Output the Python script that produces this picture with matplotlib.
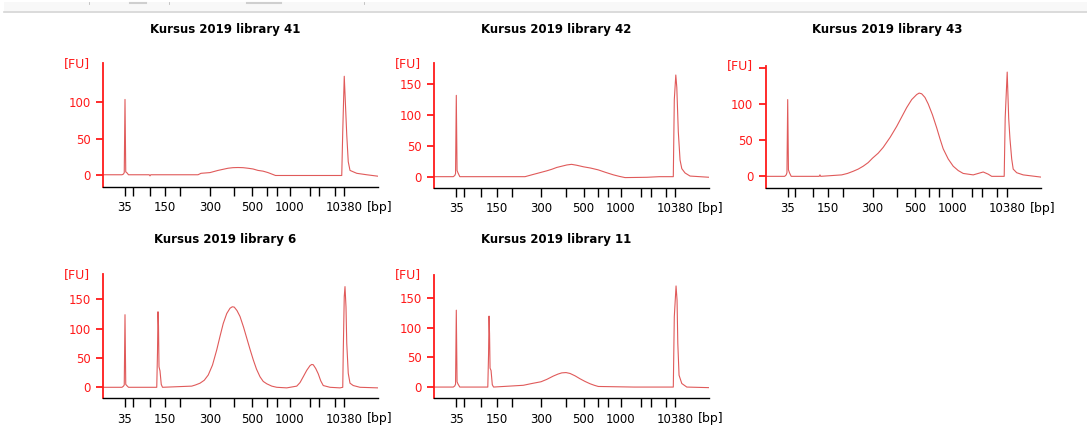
import matplotlib
matplotlib.use("Agg")
import matplotlib.pyplot as plt
from matplotlib.lines import Line2D
from matplotlib.patches import Rectangle

# ---------------- data ----------------
# ladder sizes (bp) and their migration times (s)
ladder_bp = [35, 50, 100, 150, 200, 300, 400, 500, 600, 700, 1000, 2000, 3000, 7000, 10380]
ladder_time = [28.8, 31.9, 38.8, 44.9, 50.9, 62.8, 72.5, 79.7, 85.5, 89.4, 94.6, 102.7, 106.5, 112.7, 116.4]
labelled_bp = [35, 150, 300, 500, 1000, 10380]

titles = ["Kursus 2019 library 41", "Kursus 2019 library 42", "Kursus 2019 library 43",
          "Kursus 2019 library 6", "Kursus 2019 library 11"]

lib41_time = [20, 27.6, 28.2, 28.5, 28.8, 29.1, 29.5, 30.2, 38.5, 38.8, 39.1, 58, 59.2, 62.8, 66, 68, 70,
              72, 74, 76, 78, 80, 82, 84, 86, 89, 92, 115.5, 115.9, 116.5, 117.5, 118.1, 118.8,
              121.5, 125.5, 130]
lib41_fu = [0, 0, 1, 3, 104, 4, 3, 0, 0, -1.5, 0, 0, 2, 3, 6, 7.5, 9,
            9.8, 10, 9.8, 9, 8, 6, 5, 3, -1, -1, -1, 60, 136, 55, 18, 6,
            2, 0, -2]

lib42_time = [20, 27.6, 28.2, 28.5, 28.8, 29.1, 29.5, 30.2, 56.3, 59, 62.7, 65, 67, 69, 71, 73, 74.9, 77,
              79.7, 82.5, 85.6, 88.5, 91.6, 94, 96.3, 105, 110, 115.6, 116.0, 116.6, 117.0, 117.6,
              118.3, 119.0, 120.3, 122.3, 130]
lib42_fu = [0, 0, 2, 5, 132, 10, 6, 0, 0, 3, 7, 9.5, 12, 15, 17, 19, 20, 18.5,
            16, 14, 11, 7, 3, 0.5, -1.5, -1, 0, 0, 125, 165, 145, 73,
            27, 13, 6, 1, -1]

lib43_time = [20, 27.6, 28.2, 28.5, 28.8, 29.1, 29.5, 30.2, 41.4, 41.7, 42.0, 50.4, 52.7, 55, 57, 59, 61,
              62.7, 65, 67, 69.8, 72.4, 74.4, 76.4, 78.4, 80.4, 81.4, 82.4, 83.7, 85, 86.7, 88.4, 89.7,
              91, 93, 95, 97, 99, 103, 105, 107, 109, 110.4, 115.4, 115.8, 116.6, 117.2,
              117.7, 118.4, 119.0, 120.4, 123, 130]
lib43_fu = [0, 0, 2, 5, 106, 9, 5, 0, 0, 2, 0, 2, 4, 7, 10, 14, 19,
            25, 32, 40, 54, 69, 82, 95, 106, 113, 115, 114, 109, 100, 85, 67, 52,
            38, 24, 14, 8, 4, 2, 4, 6, 3, 0, 0, 81, 144, 80,
            52, 24, 10, 5, 2, -1]

lib6_time = [20, 27.6, 28.2, 28.5, 28.8, 29.1, 29.5, 30.2, 41.5, 41.8, 42.0, 42.2, 42.4, 42.8, 43.3, 43.8,
             55.5, 57, 58.8, 60.5, 62.1, 63.8, 65.5, 66.8, 68.1, 69.5, 70.8, 71.7, 72.5, 73.6, 74.8,
             76.2, 77.5, 78.8, 80.1, 81.4, 82.8, 84.1, 85.5, 87.5, 89.5, 93.5,
             97.5, 98.8, 100.1, 101.5, 102.8, 103.5, 104.1, 105.1, 106.1, 107.1, 108.1, 110.8, 114.8,
             115.9, 116.1, 116.5, 116.8, 117.2, 117.5, 118.1, 118.8, 120.1, 122.8, 130]
lib6_fu = [0, 0, 2, 4, 124, 5, 3, 0, 0, 60, 129, 105, 35, 28, 5, 0,
           2, 4, 7, 12, 21, 38, 64, 87, 109, 126, 135, 137.5, 137, 131, 121,
           103, 84, 65, 47, 31, 18, 10, 6, 2, 0, -1,
           2, 8, 18, 29, 37, 39, 38.5, 32, 23, 11, 3, 0, -1,
           0, 60, 155, 172, 137, 75, 24, 7, 3, 0, -1]

lib11_time = [20, 27.6, 28.2, 28.5, 28.8, 29.1, 29.5, 30.2, 41.4, 41.7, 41.9, 42.1, 42.3, 42.7, 43.2, 43.7,
              55.6, 59, 62.7, 65, 67.6, 69.5, 71, 72.7, 74.3, 76.3, 78.3, 80.3, 82.3, 84, 85.6, 100,
              115.2, 115.6, 116.0, 116.7, 117.1, 117.4, 117.9, 119.0, 121.0, 130]
lib11_fu = [0, 0, 2, 5, 130, 9, 5, 0, 0, 55, 120, 90, 32, 28, 4, 0,
            3, 6, 9, 13, 18.6, 22, 24, 24.5, 23, 19, 14, 9.5, 5.6, 3, 1, 0,
            0, 0, 119, 171, 147, 74, 20, 6, 0, -1]

traces_time = [lib41_time, lib42_time, lib43_time, lib6_time, lib11_time]
traces_fu = [lib41_fu, lib42_fu, lib43_fu, lib6_fu, lib11_fu]

y_limits = [(-16.9, 153.9), (-17.9, 184), (-15.7, 152.4), (-18.8, 193), (-19, 189.5)]
y_ticks = [[0, 50, 100], [0, 50, 100, 150], [0, 50, 100, 150], [0, 50, 100, 150], [0, 50, 100, 150]]
y_ticklabels = [["0", "50", "100"], ["0", "50", "100", "150"], ["0", "50", "100", ""],
                ["0", "50", "100", "150"], ["0", "50", "100", "150"]]

# ---------------- layout (pixels) ----------------
W, H = 1087, 428
# (left x, top y, bottom y) of each plot area
boxes = [(103, 63.3, 187), (434.3, 63.3, 187.7), (765.7, 66, 187.7),
         (103, 274.3, 398.3), (434.3, 275, 398.3)]
axis_w = 275
title_x = [224.7, 556.3, 887.5, 225, 555.8]
title_y = [29, 29, 29, 240, 240]

RED = "#ff1a1a"
TRACE = "#e05a5a"

fig = plt.figure(figsize=(W / 100, H / 100), dpi=100)
fig.patch.set_facecolor("white")

# window header strip
fig.patches.append(Rectangle((4 / W, 1 - 11 / H), 1 - 4 / W, 9 / H, transform=fig.transFigure,
                             facecolor="#f8f8f8", edgecolor="none"))
fig.add_artist(Line2D([4 / W, 1], [1 - 11.5 / H, 1 - 11.5 / H], transform=fig.transFigure,
                      color="#d4d4d4", lw=1.2))
for (xa, xb) in [(130, 146), (247, 281)]:
    fig.add_artist(Line2D([xa / W, xb / W], [1 - 3 / H, 1 - 3 / H], transform=fig.transFigure,
                          color="#cfcfcf", lw=1.5))
for xm in [89, 169, 364]:
    fig.add_artist(Line2D([xm / W, xm / W], [1 - 2 / H, 1 - 4 / H], transform=fig.transFigure,
                          color="#bbbbbb", lw=0.6))

for i in range(5):
    x0, ytop, ybot = boxes[i]
    ax = fig.add_axes([x0 / W, 1 - ybot / H, axis_w / W, (ybot - ytop) / H])
    ax.set_facecolor("none")
    ax.plot(traces_time[i], traces_fu[i], color=TRACE, lw=0.8)
    ax.set_xlim(20, 130)
    ax.set_ylim(*y_limits[i])

    for s in ["top", "right"]:
        ax.spines[s].set_visible(False)
    ax.spines["left"].set_color(RED)
    ax.spines["left"].set_linewidth(1.3)
    ax.spines["bottom"].set_color("black")
    ax.spines["bottom"].set_linewidth(1.0)

    ax.set_yticks(y_ticks[i])
    ax.set_yticklabels(y_ticklabels[i])
    ax.tick_params(axis="y", colors=RED, length=5, width=1.3, pad=4, labelsize=8.5)

    ax.set_xticks(ladder_time)
    ax.set_xticklabels([str(b) if b in labelled_bp else "" for b in ladder_bp])
    ax.tick_params(axis="x", colors="black", length=6.3, width=1.0, pad=4, labelsize=8.5)

    # axis unit labels
    ax.text(-0.095, 1.0, "[FU]", transform=ax.transAxes, color=RED, fontsize=9,
            ha="center", va="center")
    ax.annotate("[bp]", xy=(1.0, 0), xycoords="axes fraction", xytext=(-11, -20.5),
                textcoords="offset pixels", ha="left", va="center", fontsize=9, color="black")

    fig.text(title_x[i] / W, 1 - title_y[i] / H, titles[i],
             ha="center", va="center", fontsize=8.5, fontweight="bold")

fig.savefig("out.png", dpi=100, facecolor="white")
